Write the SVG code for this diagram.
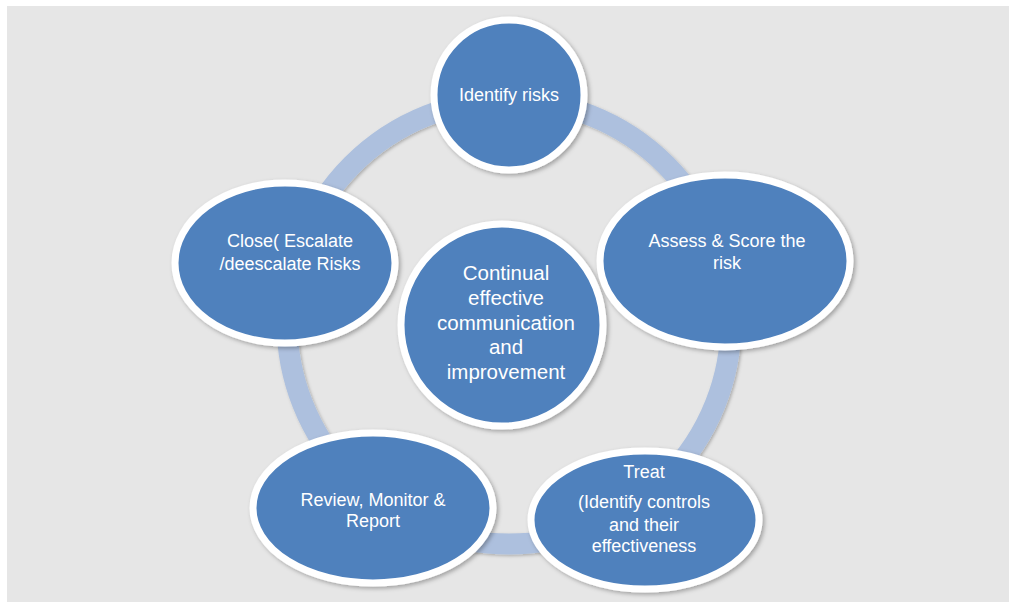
<svg xmlns="http://www.w3.org/2000/svg" width="1009" height="602" viewBox="0 0 1009 602">
  <style>
    .node { fill: #4f81bd; stroke: #ffffff; stroke-width: 7; filter: url(#sh); }
    .lbl { fill: #ffffff; font-family: "Liberation Sans", Arial, sans-serif; font-size: 18px; text-anchor: middle; }
    .big { font-size: 20.5px; }
    .ring { fill: none; stroke: #adc0de; stroke-width: 21; filter: url(#sh2); }
  </style>
  <defs>
    <filter id="sh" x="-10%" y="-10%" width="125%" height="125%">
      <feDropShadow dx="2" dy="2" stdDeviation="2" flood-color="#000000" flood-opacity="0.3"/>
    </filter>
    <filter id="sh2" x="-10%" y="-10%" width="125%" height="125%">
      <feDropShadow dx="1.5" dy="1.5" stdDeviation="1.5" flood-color="#000000" flood-opacity="0.25"/>
    </filter>
  </defs>
  <rect x="0" y="0" width="1009" height="602" fill="#ffffff"/>
  <rect x="7" y="6" width="1002" height="596" fill="#e6e6e6"/>

  <g id="connectors">
    <circle class="ring" cx="509" cy="322" r="222"/>
  </g>

  <g id="center">
    <circle class="node" cx="502" cy="325" r="101"/>
    <text class="lbl big" x="506" y="280">Continual</text>
    <text class="lbl big" x="506" y="305">effective</text>
    <text class="lbl big" x="506" y="330">communication</text>
    <text class="lbl big" x="506" y="354">and</text>
    <text class="lbl big" x="506" y="379">improvement</text>
  </g>

  <g id="identify">
    <circle class="node" cx="509" cy="95" r="75"/>
    <text class="lbl" x="509" y="101">Identify risks</text>
  </g>

  <g id="assess">
    <ellipse class="node" cx="725" cy="261" rx="125" ry="86"/>
    <text class="lbl" x="727" y="247">Assess &amp; Score the</text>
    <text class="lbl" x="727" y="269">risk</text>
  </g>

  <g id="treat">
    <ellipse class="node" cx="645" cy="520" rx="114" ry="69"/>
    <text class="lbl" x="644" y="478">Treat</text>
    <text class="lbl" x="644" y="508">(Identify controls</text>
    <text class="lbl" x="644" y="531">and their</text>
    <text class="lbl" x="644" y="552">effectiveness</text>
  </g>

  <g id="review">
    <ellipse class="node" cx="373" cy="508" rx="120" ry="75"/>
    <text class="lbl" x="373" y="506">Review, Monitor &amp;</text>
    <text class="lbl" x="373" y="527">Report</text>
  </g>

  <g id="close">
    <ellipse class="node" cx="285" cy="263" rx="110" ry="80"/>
    <text class="lbl" x="290" y="247">Close( Escalate</text>
    <text class="lbl" x="290" y="270">/deescalate Risks</text>
  </g>
</svg>
